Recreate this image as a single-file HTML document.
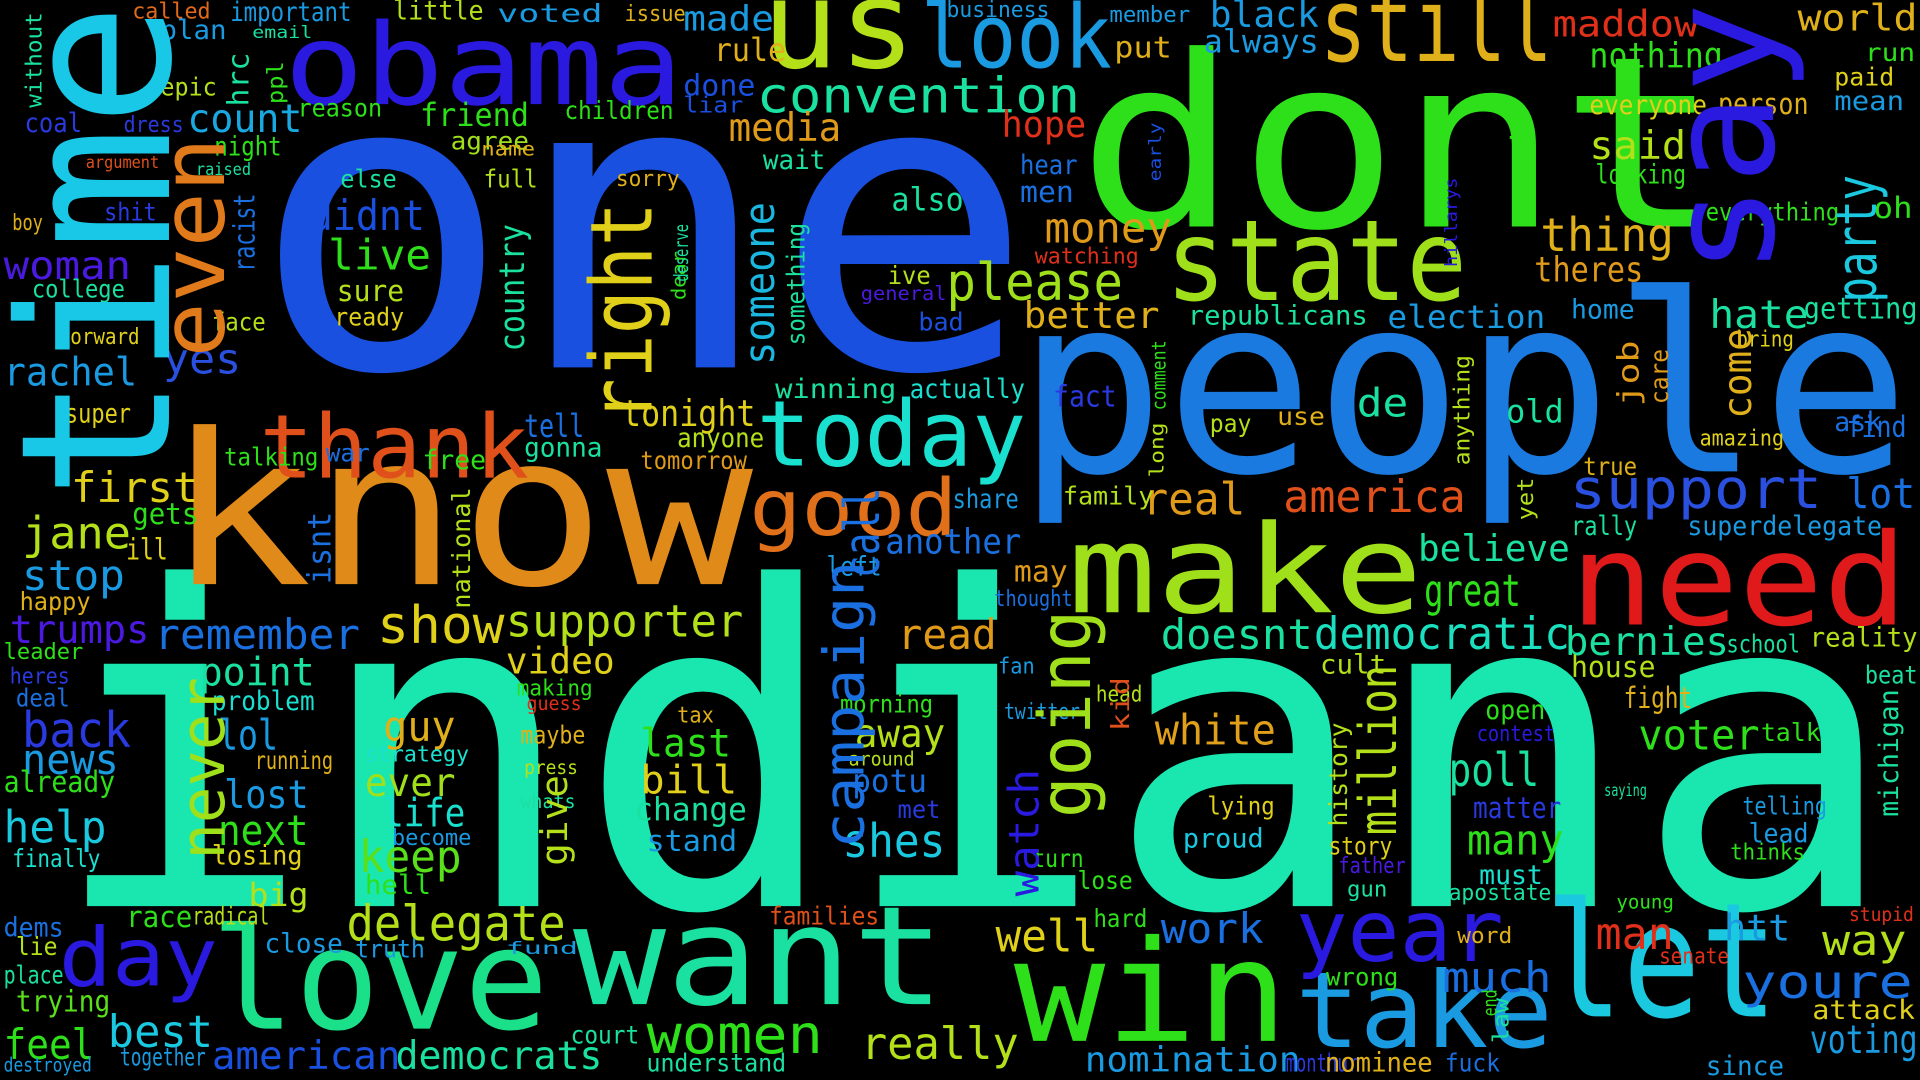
<!DOCTYPE html>
<html><head><meta charset="utf-8"><title>Word cloud</title>
<style>
html,body{margin:0;padding:0;background:#000;width:1920px;height:1080px;overflow:hidden}
svg{display:block}
text{font-family:"DejaVu Sans Mono","Liberation Mono",monospace}
</style></head>
<body>
<svg id="cloud" width="1920" height="1080" viewBox="0 0 1568 882" preserveAspectRatio="none" xmlns="http://www.w3.org/2000/svg">
<rect x="0" y="0" width="1568" height="882" fill="#000"/>
</svg>
<script>
// Horizontal words: word, left x, right x, baseline y, font size, colour
const hWords = [
["indiana",40,1550,740,362,"#1ae6b0"],
["one",205,845,300,335,"#1a50e0"],
["dont",880,1405,185,195,"#2ee01a"],
["people",830,1560,385,202,"#1a7ae0"],
["know",135,615,477,172,"#e08a1a"],
["obama",232,558,85,92,"#2a1ae0"],
["us",622,748,55,100,"#b4e01a"],
["look",752,908,55,72,"#1a9ae0"],
["still",1078,1268,50,84,"#e0b01a"],
["state",952,1198,245,92,"#a0e01a"],
["make",872,1162,500,100,"#a0e01a"],
["need",1282,1558,510,104,"#e01a1a"],
["thank",212,432,390,72,"#e0501a"],
["good",612,782,437,64,"#e0701a"],
["today",618,838,380,74,"#1ae0d0"],
["want",468,772,820,112,"#1ae0a0"],
["love",172,448,840,115,"#1ae08a"],
["win",828,1052,850,115,"#2ee01a"],
["let",1262,1452,830,130,"#1ac8e0"],
["take",1058,1268,855,86,"#1a9ae0"],
["year",1058,1228,785,70,"#2a1ae0"],
["day",48,178,805,66,"#2a1ae0"],
["support",1282,1488,415,45,"#2a50e0"],
["convention",618,882,92,40,"#1ae0a0"],
["delegate",283,462,768,40,"#b4e01a"],
["democratic",1073,1282,530,36,"#1ae0c0"],
["supporter",413,607,520,36,"#b4e01a"],
["show",308,412,525,42,"#e0d01a"],
["women",528,672,860,44,"#2ee01a"],
["money",853,957,198,34,"#e09a1a"],
["thing",1258,1367,205,38,"#e0b01a"],
["please",773,917,245,42,"#a0e01a"],
["maddow",1268,1387,30,30,"#e0301a"],
["world",1468,1566,25,30,"#e0b01a"],
["remember",126,294,530,34,"#1a70e0"],
["rachel",3,112,315,32,"#1a9ae0"],
["woman",3,107,228,32,"#4a1ae0"],
["jane",18,107,448,36,"#b4e01a"],
["stop",18,102,482,34,"#1a9ae0"],
["first",58,162,410,34,"#e0d01a"],
["back",18,107,610,40,"#2a3ae0"],
["news",18,97,632,34,"#1a9ae0"],
["help",3,87,688,36,"#1ac8e0"],
["trumps",8,122,525,32,"#4a1ae0"],
["yes",133,197,305,34,"#2a50e0"],
["count",153,247,108,32,"#1aa8e0"],
["didnt",253,347,188,34,"#1a50e0"],
["live",268,352,220,34,"#2ee01a"],
["point",163,257,560,32,"#1ae0a0"],
["lol",178,227,612,34,"#1a9ae0"],
["lost",183,252,660,32,"#1a9ae0"],
["next",178,252,690,34,"#2ee01a"],
["keep",293,377,712,36,"#5ae01a"],
["guy",313,372,605,34,"#e0b01a"],
["ever",298,372,650,32,"#a0e01a"],
["life",313,380,675,32,"#1ae0d0"],
["video",413,502,550,30,"#e0d01a"],
["last",523,597,618,32,"#2ee01a"],
["bill",523,602,648,32,"#e0d01a"],
["change",518,610,670,26,"#1ae0a0"],
["stand",528,602,695,24,"#1a9ae0"],
["really",703,832,865,36,"#b4e01a"],
["away",698,772,610,32,"#b4e01a"],
["shes",688,772,700,38,"#1ac8e0"],
["potu",696,757,647,26,"#1a70e0"],
["read",733,814,530,34,"#e09a1a"],
["another",723,834,452,28,"#1a70e0"],
["media",595,687,115,32,"#e09a1a"],
["also",728,787,172,26,"#1ae0a0"],
["better",836,947,268,30,"#e0b01a"],
["republicans",970,1117,265,22,"#1ae0a0"],
["election",1133,1262,268,26,"#1a9ae0"],
["hate",1396,1477,268,32,"#1ae0a0"],
["getting",1473,1566,260,24,"#1ae0a0"],
["great",1163,1242,495,36,"#2ee01a"],
["believe",1158,1282,458,30,"#1ae0a0"],
["doesnt",948,1072,530,34,"#1ae0a0"],
["white",943,1042,608,34,"#e0a01a"],
["poll",1183,1257,642,38,"#1ae0a0"],
["many",1198,1277,698,34,"#2ee01a"],
["voter",1338,1437,612,34,"#2ee01a"],
["bernies",1278,1412,535,32,"#1ae0a0"],
["reality",1478,1566,528,22,"#b4e01a"],
["house",1283,1352,553,24,"#b4e01a"],
["america",1048,1197,418,36,"#e0501a"],
["real",933,1017,420,36,"#e09a1a"],
["family",868,942,412,20,"#b4e01a"],
["well",813,897,777,36,"#e0d01a"],
["work",948,1032,770,34,"#1a70e0"],
["much",1178,1267,810,34,"#1a70e0"],
["man",1303,1367,775,36,"#e0301a"],
["youre",1423,1562,815,38,"#1a70e0"],
["voting",1478,1566,860,32,"#1a9ae0"],
["way",1488,1557,780,34,"#b4e01a"],
["htt",1408,1462,768,30,"#1a9ae0"],
["nomination",886,1062,875,28,"#1a9ae0"],
["democrats",323,492,873,32,"#1ae0a0"],
["american",173,327,873,32,"#1a50e0"],
["best",88,174,855,36,"#1ac8e0"],
["feel",3,77,865,34,"#2ee01a"],
["winning",633,732,325,22,"#1ae0a0"],
["actually",743,837,325,22,"#1ae0d0"],
["tonight",508,617,348,30,"#e0d01a"],
["tell",428,477,357,26,"#1a70e0"],
["gonna",428,492,373,22,"#1ae0a0"],
["lot",1508,1564,415,34,"#1a70e0"],
["hope",818,887,112,30,"#e0301a"],
["said",1298,1377,130,32,"#b4e01a"],
["looking",1303,1377,150,22,"#2ee01a"],
["nothing",1298,1407,55,28,"#2ee01a"],
["everyone",1298,1394,93,22,"#e0d01a"],
["person",1403,1477,93,24,"#e0b01a"],
["made",558,632,25,28,"#1a9ae0"],
["rule",583,642,50,26,"#e0b01a"],
["done",558,617,78,24,"#1a50e0"],
["black",988,1077,22,30,"#1a9ae0"],
["always",983,1077,43,26,"#1a9ae0"],
["friend",343,432,103,26,"#2ee01a"],
["agree",368,432,122,20,"#a0e01a"],
["important",188,287,17,22,"#1a9ae0"],
["little",321,395,16,22,"#b4e01a"],
["voted",406,492,18,20,"#1a9ae0"],
["issue",510,560,17,18,"#e0b01a"],
["called",108,172,15,18,"#e06a1a"],
["plan",131,185,32,22,"#1a9ae0"],
["email",206,255,31,14,"#1ae0a0"],
["epic",131,177,78,20,"#b4e01a"],
["coal",20,67,108,22,"#2a3ae0"],
["dress",101,150,108,18,"#2a3ae0"],
["reason",243,312,95,20,"#2ee01a"],
["night",175,230,127,22,"#2ee01a"],
["argument",70,130,137,14,"#e0501a"],
["raised",160,205,143,14,"#1ae0a0"],
["shit",85,128,180,20,"#2a3ae0"],
["boy",10,35,188,18,"#e0b01a"],
["college",26,102,243,20,"#1ae0a0"],
["forward",48,114,281,18,"#e0d01a"],
["face",173,217,270,20,"#b4e01a"],
["sure",275,330,246,24,"#b4e01a"],
["ready",273,330,266,20,"#e0d01a"],
["else",278,324,153,20,"#1ae0a0"],
["name",393,437,127,16,"#e0b01a"],
["full",395,439,153,20,"#b4e01a"],
["sorry",503,555,152,18,"#e0b01a"],
["children",461,550,97,20,"#2ee01a"],
["liar",558,607,92,18,"#1a50e0"],
["talking",183,260,380,20,"#2ee01a"],
["war",266,302,377,20,"#1a70e0"],
["free",345,397,383,22,"#2ee01a"],
["super",53,107,345,22,"#e0d01a"],
["gets",108,162,428,24,"#2ee01a"],
["ill",103,137,457,24,"#e0d01a"],
["happy",16,74,498,20,"#e0b01a"],
["leader",3,68,538,18,"#2ee01a"],
["heres",8,57,558,18,"#2a3ae0"],
["deal",13,57,577,20,"#1a70e0"],
["already",3,94,647,24,"#2ee01a"],
["finally",10,82,708,20,"#1ae0d0"],
["dems",3,52,765,22,"#1a70e0"],
["lie",13,47,780,20,"#b4e01a"],
["place",3,52,803,20,"#1ae0a0"],
["trying",13,90,826,24,"#5ae01a"],
["race",103,157,757,24,"#2ee01a"],
["radical",157,220,755,20,"#b4e01a"],
["close",216,280,778,22,"#1a9ae0"],
["truth",290,347,782,20,"#1a9ae0"],
["big",203,252,740,26,"#b4e01a"],
["hell",298,352,730,22,"#2ee01a"],
["running",208,272,628,20,"#e0b01a"],
["losing",173,247,706,22,"#e0d01a"],
["problem",173,257,580,22,"#1ae0d0"],
["strategy",298,383,622,18,"#1ae0d0"],
["become",320,385,690,18,"#1a9ae0"],
["together",98,168,870,20,"#1a9ae0"],
["destroyed",3,75,875,16,"#1a9ae0"],
["court",466,522,852,20,"#1ae0a0"],
["understand",528,642,875,20,"#1ae0a0"],
["cult",1078,1132,550,22,"#b4e01a"],
["de",1108,1150,340,32,"#1ae0a0"],
["fact",860,912,332,24,"#2a3ae0"],
["pay",988,1022,353,20,"#b4e01a"],
["use",1043,1082,347,20,"#e0b01a"],
["old",1230,1277,345,26,"#1ae0a0"],
["ask",1498,1537,352,22,"#1a70e0"],
["find",1508,1557,357,24,"#1a70e0"],
["true",1293,1337,388,20,"#e0b01a"],
["amazing",1388,1457,364,18,"#e0d01a"],
["rally",1283,1337,437,22,"#1ae0a0"],
["superdelegate",1378,1537,437,22,"#1a9ae0"],
["fight",1326,1382,578,24,"#e0b01a"],
["open",1213,1262,587,22,"#2ee01a"],
["contest",1206,1270,605,18,"#2a1ae0"],
["matter",1203,1275,668,24,"#2a3ae0"],
["must",1208,1260,722,22,"#1ae0d0"],
["apostate",1183,1267,735,18,"#1ae0a0"],
["lead",1428,1477,688,22,"#1a9ae0"],
["thinks",1413,1474,702,18,"#2ee01a"],
["telling",1423,1492,665,20,"#1a9ae0"],
["talk",1438,1487,605,20,"#2ee01a"],
["beat",1523,1566,558,20,"#1ae0a0"],
["attack",1480,1564,832,22,"#e0d01a"],
["since",1393,1457,878,22,"#1a9ae0"],
["month",1050,1092,875,20,"#2a3ae0"],
["ur",1092,1110,875,20,"#2a3ae0"],
["fuck",1180,1225,875,20,"#1a70e0"],
["nominee",1082,1170,875,22,"#e0b01a"],
["tomorrow",523,610,383,20,"#e09a1a"],
["anyone",553,624,365,22,"#b4e01a"],
["share",778,832,415,22,"#1a9ae0"],
["may",828,872,475,24,"#e09a1a"],
["left",675,720,470,22,"#1a9ae0"],
["wait",623,674,138,22,"#1ae0a0"],
["hear",833,880,142,22,"#1a70e0"],
["men",833,877,165,24,"#1a70e0"],
["put",910,957,47,24,"#e0b01a"],
["business",773,857,14,18,"#1a9ae0"],
["member",906,972,18,18,"#1a9ae0"],
["theres",1253,1342,230,28,"#e09a1a"],
["everything",1393,1502,180,20,"#2ee01a"],
["mean",1498,1555,90,22,"#1a9ae0"],
["paid",1498,1547,70,20,"#e0d01a"],
["run",1523,1564,50,20,"#2ee01a"],
["oh",1530,1562,178,24,"#2ee01a"],
["home",1283,1335,260,22,"#1a9ae0"],
["bring",1418,1465,283,18,"#e0d01a"],
["ive",725,760,232,20,"#b4e01a"],
["general",703,773,245,16,"#4a1ae0"],
["bad",750,787,270,20,"#1a50e0"],
["watching",845,930,215,18,"#e0301a"],
["fund",413,472,779,14,"#1a9ae0"],
["families",628,718,755,20,"#e0501a"],
["morning",686,762,582,20,"#2ee01a"],
["around",693,747,625,16,"#b4e01a"],
["met",733,768,668,20,"#2a3ae0"],
["tax",553,583,590,18,"#e0b01a"],
["guess",430,475,580,16,"#e0301a"],
["maybe",425,478,607,20,"#e0b01a"],
["making",422,484,568,18,"#2ee01a"],
["press",428,472,632,16,"#b4e01a"],
["whats",425,470,660,16,"#1ae0a0"],
["thought",812,876,495,18,"#1a70e0"],
["head",895,933,573,18,"#b4e01a"],
["fan",815,845,550,18,"#1a9ae0"],
["twitter",820,882,587,18,"#1a9ae0"],
["turn",843,885,708,20,"#2ee01a"],
["lose",880,925,726,20,"#2ee01a"],
["hard",893,937,757,20,"#2ee01a"],
["proud",966,1032,692,22,"#1ac8e0"],
["lying",986,1041,665,20,"#e0d01a"],
["story",1085,1137,698,20,"#e0d01a"],
["father",1093,1148,713,18,"#4a1ae0"],
["gun",1100,1133,732,18,"#1ae0a0"],
["wrong",1083,1142,805,20,"#2ee01a"],
["word",1190,1235,770,18,"#e0b01a"],
["senate",1355,1412,787,18,"#e0301a"],
["young",1320,1367,742,16,"#2ee01a"],
["saying",1310,1345,650,14,"#1ae0a0"],
["school",1410,1470,533,20,"#1ae0a0"],
["stupid",1510,1563,752,16,"#e0301a"]
];
// Vertical words (read bottom-to-top): word, baseline x, bottom y, top y, font size, colour
const vWords = [
["time",138,408,2,170,"#18c8e6"],
["say",1448,225,2,120,"#2a1ae0"],
["even",183,292,112,72,"#e07a1a"],
["right",532,345,165,70,"#e0d01a"],
["someone",632,298,165,34,"#1ab8e0"],
["something",657,282,182,20,"#1ae0a0"],
["country",428,287,183,28,"#1ae0a0"],
["never",183,702,553,50,"#a0e01a"],
["going",890,668,498,58,"#a0e01a"],
["campaign",705,693,458,46,"#1a70e0"],
["call",718,472,398,40,"#1a70e0"],
["watch",848,732,628,34,"#2a1ae0"],
["million",1140,682,543,42,"#b4e01a"],
["history",1100,675,590,20,"#b4e01a"],
["party",1532,247,143,46,"#1ac8e0"],
["job",1338,332,278,24,"#e09a1a"],
["come",1430,342,268,32,"#e0b01a"],
["give",463,707,633,30,"#b4e01a"],
["michigan",1550,667,563,22,"#1ae0a0"],
["racist",208,222,158,24,"#1a70e0"],
["hrc",203,87,43,24,"#1ae0a0"],
["without",34,88,10,18,"#1ae0a0"],
["wont",1250,167,103,24,"#2ee01a"],
["isnt",270,477,418,26,"#1a70e0"],
["national",384,497,398,20,"#b4e01a"],
["kid",922,597,553,20,"#e0501a"],
["anything",1200,380,290,18,"#b4e01a"],
["long",950,390,345,16,"#b4e01a"],
["comment",952,335,278,16,"#2ee01a"],
["dear",560,245,205,16,"#2ee01a"],
["deserve",562,230,183,16,"#1ae0a0"],
["early",948,148,100,14,"#1a50e0"],
["hillarys",1190,218,145,14,"#2a1ae0"],
["yet",1252,425,390,18,"#b4e01a"],
["law",1232,852,815,18,"#1ae0a0"],
["end",1222,830,808,16,"#2ee01a"],
["care",1362,330,285,20,"#e09a1a"],
["ppl",231,85,50,18,"#2ee01a"]
];
const svg = document.getElementById('cloud');
const NS = 'http://www.w3.org/2000/svg';
hWords.forEach(w => {
  const t = document.createElementNS(NS, 'text');
  t.setAttribute('x', w[1]);
  t.setAttribute('y', w[3]);
  t.setAttribute('font-size', w[4]);
  t.setAttribute('fill', w[5]);
  t.setAttribute('textLength', w[2] - w[1]);
  t.setAttribute('lengthAdjust', 'spacingAndGlyphs');
  t.textContent = w[0];
  
  
  svg.appendChild(t);
});
vWords.forEach(w => {
  const t = document.createElementNS(NS, 'text');
  t.setAttribute('x', 0);
  t.setAttribute('y', 0);
  t.setAttribute('transform', 'translate(' + w[1] + ',' + w[2] + ') rotate(-90)');
  t.setAttribute('font-size', w[4]);
  t.setAttribute('fill', w[5]);
  t.setAttribute('textLength', w[2] - w[3]);
  t.setAttribute('lengthAdjust', 'spacingAndGlyphs');
  t.textContent = w[0];
  
  
  svg.appendChild(t);
});
</script>
</body></html>
